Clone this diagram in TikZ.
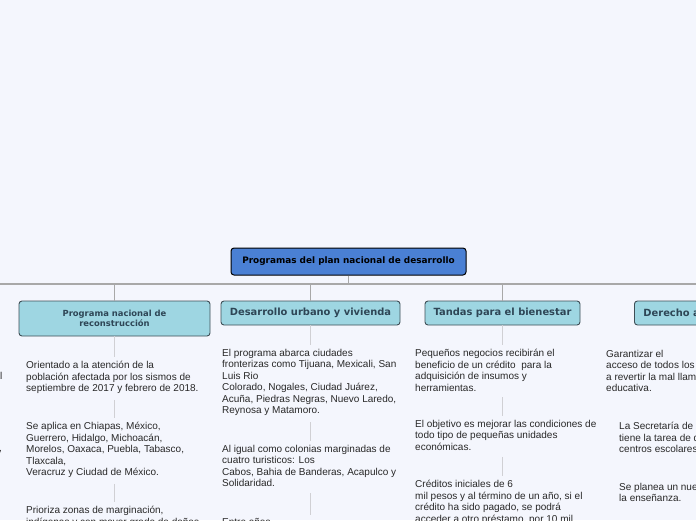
\documentclass[tikz,border=0pt]{standalone}
\usepackage{fontspec}
\setmainfont{Liberation Sans}
\newfontfamily\hdfont{DejaVu Sans}
\definecolor{bgc}{RGB}{244,246,253}
\definecolor{rootfill}{RGB}{74,128,212}
\definecolor{kidfill}{RGB}{158,214,226}
\definecolor{kidtext}{RGB}{46,70,86}
\definecolor{kidline}{RGB}{62,78,86}
\definecolor{bodytext}{RGB}{40,40,40}
\definecolor{busc}{RGB}{168,168,168}
\definecolor{thinc}{RGB}{208,208,212}
\tikzset{
  rootbox/.style={draw=black, line width=1pt, fill=rootfill, rounded corners=3pt,
    minimum width=235pt, minimum height=27pt, inner sep=0pt,
    font=\hdfont\bfseries\fontsize{8.9}{10}\selectfont, text=black},
  kidbox/.style={draw=kidline, line width=0.9pt, fill=kidfill, rounded corners=3pt,
    inner sep=0pt, text=kidtext, align=center},
  kidfont/.style={font=\hdfont\bfseries\fontsize{9.9}{11}\selectfont},
  bodyblock/.style={anchor=north west, inner sep=0pt, align=left, text=bodytext,
    font=\fontsize{10}{11.5}\selectfont},
  fragtext/.style={anchor=base east, inner sep=0pt, text=bodytext,
    font=\fontsize{10}{11.5}\selectfont},
  bus/.style={draw=busc, line width=1.6pt},
  thin/.style={draw=thinc, line width=1pt},
}
\begin{document}
\begin{tikzpicture}[x=1pt,y=-1pt]
\useasboundingbox (0,0) rectangle (696,520);
\clip (0,0) rectangle (696,520);
\fill[bgc] (0,0) rectangle (696,520);

% bus
\coordinate (busL) at (0,284);
\coordinate (busR) at (696,284);

\node[rootbox] (root) at (348.5,261.5) {Programas del plan nacional de desarrollo};

\node[kidbox, minimum width=191pt, minimum height=35pt,
  font=\hdfont\bfseries\fontsize{8.4}{10.4}\selectfont] (c1) at (114.5,318.5)
  {Programa nacional de\\reconstrucción};
\node[kidbox, kidfont, minimum width=179pt, minimum height=24pt] (c2) at (310.5,313)
  {Desarrollo urbano y vivienda};
\node[kidbox, kidfont, minimum width=155pt, minimum height=24pt] (c3) at (502.5,313)
  {Tandas para el bienestar};
\node[kidbox, kidfont, inner xsep=9pt, minimum height=24pt, anchor=west] (c4) at (634,313)
  {Derecho a la educación};

\draw[bus] (busL) -- (busR);
\draw[bus] (root.south) -- (root.south |- busL);
\draw[bus] (c1.north) -- (c1.north |- busL);
\draw[bus] (c2.north) -- (c2.north |- busL);
\draw[bus] (c3.north) -- (c3.north |- busL);
\draw[bus] (c4.north) -- (c4.north |- busL);

% column 0 fragments (cut by the left edge)
\node[fragtext] (f1) at (2.5,379) {nacional};
\node[fragtext] (f2) at (2,451) {Tabasco,};

% column 1
\node[bodyblock] (t11) at (26,361) {Orientado a la atención de la\\población afectada por los sismos de\\septiembre de 2017 y febrero de 2018.};
\node[bodyblock] (t12) at (26,422) {Se aplica en Chiapas, México,\\Guerrero, Hidalgo, Michoacán,\\Morelos, Oaxaca, Puebla, Tabasco,\\Tlaxcala,\\Veracruz y Ciudad de México.};
\node[bodyblock] (t13) at (26,506) {Prioriza zonas de marginación,\\indígenas y con mayor grado de daños};

% column 2
\node[bodyblock] (t21) at (222,349) {El programa abarca ciudades\\fronterizas como Tijuana, Mexicali, San\\Luis Rio\\Colorado, Nogales, Ciudad Juárez,\\Acuña, Piedras Negras, Nuevo Laredo,\\Reynosa y Matamoro.};
\node[bodyblock] (t22) at (222,445) {Al igual como colonias marginadas de\\cuatro turisticos: Los\\Cabos, Bahia de Banderas, Acapulco y\\Solidaridad.};
\node[bodyblock] (t23) at (222,518.5) {Entre años};

% column 3
\node[bodyblock] (t31) at (415,349) {Pequeños negocios recibirán el\\beneficio de un crédito\ \ para la\\adquisición de insumos y\\herramientas.};
\node[bodyblock] (t32) at (415,420) {El objetivo es mejorar las condiciones de\\todo tipo de pequeñas unidades\\económicas.};
\node[bodyblock] (t33) at (415,480) {Créditos iniciales de 6\\mil pesos y al término de un año, si el\\crédito ha sido pagado, se podrá\\acceder a otro préstamo, por 10 mil};

% column 4
\node[bodyblock] (t41) at (606,350) {Garantizar el\\acceso de todos los jóvenes\\a revertir la mal llamada reforma\\educativa.};
\node[bodyblock] (t42) at (619,422) {La Secretaría de Educación\\tiene la tarea de dignificar\\centros escolares};
\node[bodyblock] (t43) at (619,483) {Se planea un nuevo modelo de\\la enseñanza.};

% thin connectors
\draw[thin, shorten >=4pt] (c1.south) -- (c1.south |- t11.north);
\draw[thin, shorten <=6pt, shorten >=4pt] (c1.south |- t11.south) -- (c1.south |- t12.north);
\draw[thin, shorten <=6pt, shorten >=4pt] (c1.south |- t12.south) -- (c1.south |- t13.north);
\draw[thin, shorten >=4pt] (c2.south) -- (c2.south |- t21.north);
\draw[thin, shorten <=6pt, shorten >=4pt] (c2.south |- t21.south) -- (c2.south |- t22.north);
\draw[thin, shorten <=6pt, shorten >=4pt] (c2.south |- t22.south) -- (c2.south |- t23.north);
\draw[thin, shorten >=4pt] (c3.south) -- (c3.south |- t31.north);
\draw[thin, shorten <=6pt, shorten >=4pt] (c3.south |- t31.south) -- (c3.south |- t32.north);
\draw[thin, shorten <=6pt, shorten >=4pt] (c3.south |- t32.south) -- (c3.south |- t33.north);
\end{tikzpicture}
\end{document}
